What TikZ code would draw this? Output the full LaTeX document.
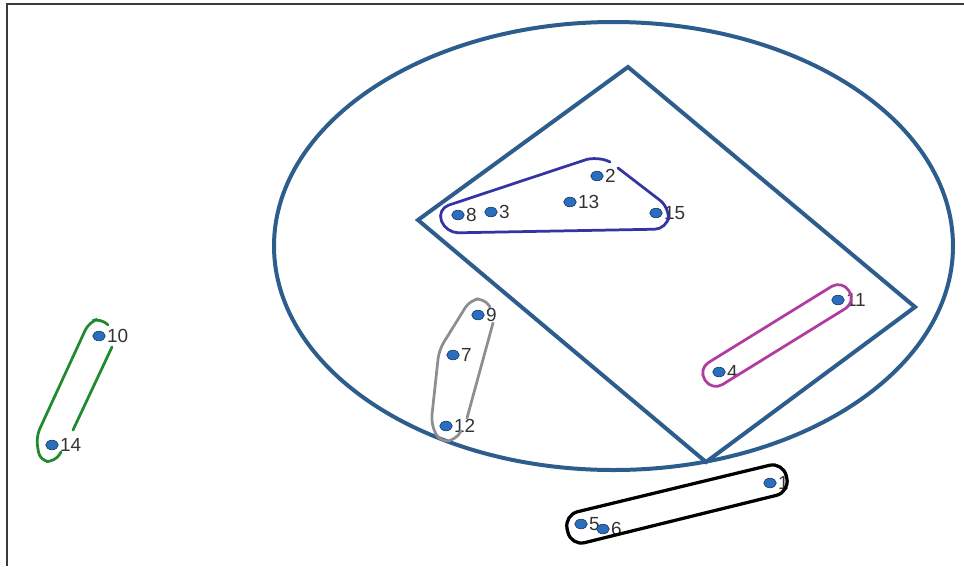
\documentclass[tikz,border=0pt]{standalone}
\usepackage{fontspec}
\setmainfont{Liberation Sans}
\usetikzlibrary{shapes.geometric}
\definecolor{clusteel}{HTML}{2D5D8D}
\definecolor{cludot}{HTML}{2A6FBF}
\definecolor{cludotedge}{HTML}{1B3F6E}
\definecolor{cluink}{HTML}{333333}
\definecolor{cluframe}{HTML}{3A3A3A}
\definecolor{clunavy}{HTML}{3434A2}
\definecolor{clugray}{HTML}{8E8E8E}
\definecolor{clugreen}{HTML}{1F8A2E}
\definecolor{clumagenta}{HTML}{B03C9F}
\tikzset{
  clu/.style={font=\fontsize{10.8}{12}\selectfont, text=cluink},
  cludotn/.style={ellipse, draw=cludotedge, fill=cludot, line width=0.4pt,
    minimum width=0.25cm, minimum height=0.19cm, inner sep=0pt},
  clulbl/.style={inner sep=0.6pt, text=cluink},
  cluhull/.style={line width=0.055cm, rounded corners=5pt, line cap=round},
  clubig/.style={draw=clusteel, line width=0.08cm, line join=miter},
}

\begin{document}
\begin{tikzpicture}[clu, x=0.02cm, y=-0.02cm]
  \useasboundingbox (0,0) rectangle (964,566);
  \draw[cluframe, line width=0.03cm] (7,566) -- (7,4) -- (964,4);
  % outer ellipse and inner quadrilateral
  \draw[clubig] (613.5,246) ellipse [x radius=339.5, y radius=224];
  \draw[clubig] (628,67) -- (915,307) -- (706,462) -- (418,220) -- cycle;
  % points
  \node[cludotn, label={[clulbl]right:1}]  (p1)  at (770,483) {};
  \node[cludotn, label={[clulbl]right:2}]  (p2)  at (597,176) {};
  \node[cludotn, label={[clulbl]right:3}]  (p3)  at (491,212) {};
  \node[cludotn, label={[clulbl]right:4}]  (p4)  at (719,372) {};
  \node[cludotn, label={[clulbl]right:5}]  (p5)  at (581,524) {};
  \node[cludotn, label={[clulbl]right:6}]  (p6)  at (603,529) {};
  \node[cludotn, label={[clulbl]right:7}]  (p7)  at (453,355) {};
  \node[cludotn, label={[clulbl]right:8}]  (p8)  at (458,215) {};
  \node[cludotn, label={[clulbl]right:9}]  (p9)  at (478,315) {};
  \node[cludotn, label={[clulbl]right:10}] (p10) at (99,336) {};
  \node[cludotn, label={[clulbl]right:11}] (p11) at (838,300) {};
  \node[cludotn, label={[clulbl]right:12}] (p12) at (446,426) {};
  \node[cludotn, label={[clulbl]right:13}] (p13) at (570,202) {};
  \node[cludotn, label={[clulbl]right:14}] (p14) at (52,445) {};
  \node[cludotn, label={[clulbl]right:15}] (p15) at (656,213) {};
  % cluster outlines
  \draw[cluhull, draw=clunavy, rounded corners=7pt] (610,162) -- (597,156)
    -- (437,209) -- (446,233) -- (667,229) -- (670,208) -- (618,168);
  \draw[cluhull, draw=clugray] (490,307) -- (484,298) -- (470,300) -- (439,350)
    -- (431,424) -- (440,442) -- (456,440) -- (461,431);
  \draw[cluhull, draw=clugray] (493,323) -- (467,418);
  \draw[cluhull, draw=clugreen] (108,325) -- (101,318) -- (89,322) -- (36,437)
    -- (40,461) -- (55,462) -- (61,452);
  \draw[cluhull, draw=clugreen] (112,347) -- (73,430);
  \draw[cluhull, draw=clumagenta, rounded corners=7pt] (842,280) -- (856,302)
    -- (712,391) -- (698,369) -- cycle;
  \draw[cluhull, draw=black, line width=0.065cm, rounded corners=8pt]
    (564,515) -- (783,462) -- (790,492) -- (571,546) -- cycle;
\end{tikzpicture}
\end{document}
